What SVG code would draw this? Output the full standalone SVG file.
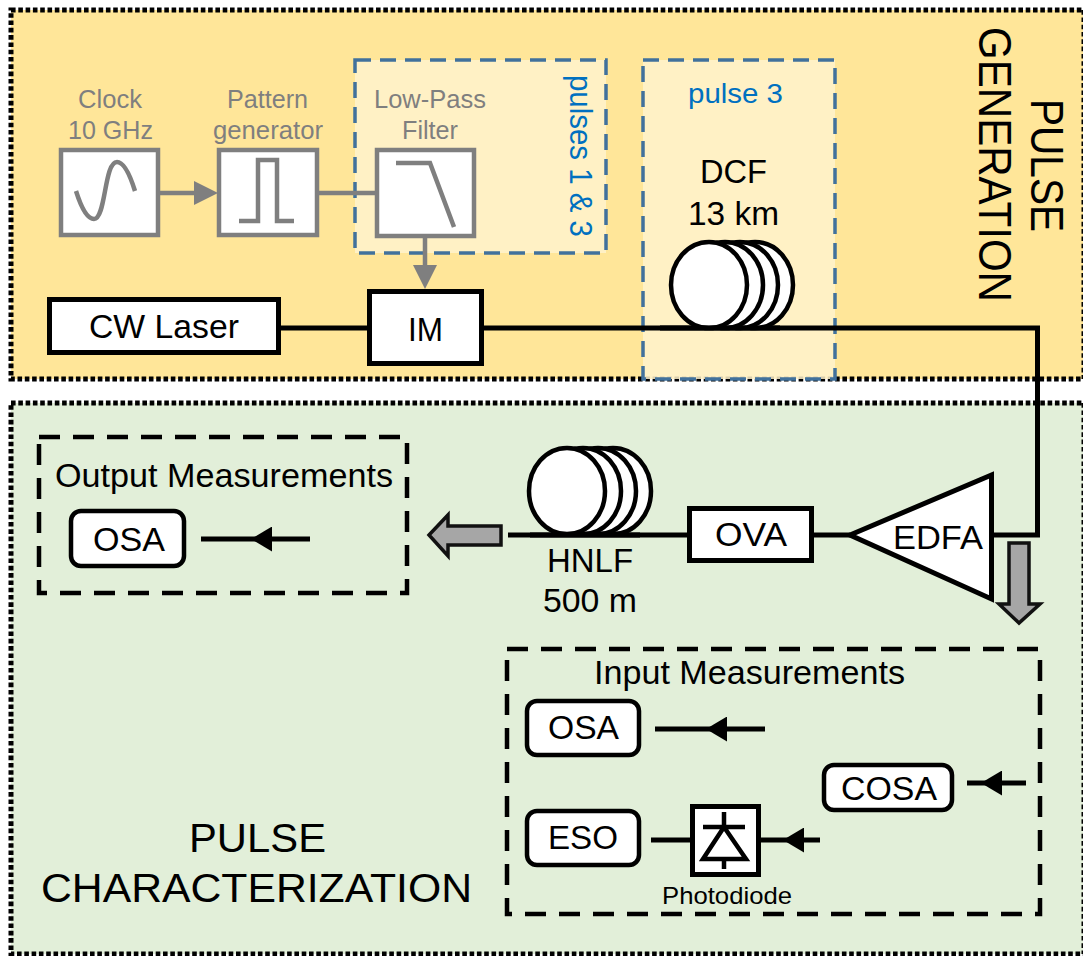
<svg xmlns="http://www.w3.org/2000/svg" width="1083" height="956" viewBox="0 0 1083 956">
<style>
text{font-family:"Liberation Sans",Arial,sans-serif;fill:#000;font-size:33.5px}
.g{fill:#7f7f7f;font-size:26.5px}
.b{fill:#0070c0}
.panel{stroke:#000;stroke-width:5;stroke-dasharray:4.6 2.7}
.sel{fill:#fff2cc;fill-opacity:.85;stroke:#41719c;stroke-width:3.5;stroke-dasharray:16 9}
.meas{fill:none;stroke:#000;stroke-width:4.5;stroke-dasharray:21 13}
.gb{fill:#fff;stroke:#7f7f7f;stroke-width:4.5}
.gl{fill:none;stroke:#7f7f7f;stroke-width:4.5}
.bb{fill:#fff;stroke:#000;stroke-width:5}
.rb{fill:#fff;stroke:#000;stroke-width:4.5}
.bl{fill:none;stroke:#000;stroke-width:5}
.ml{marker-mid:url(#ah)}
.coil ellipse{fill:#fff;stroke:#000;stroke-width:4.5}
.big{fill:#a6a6a6;stroke:#111;stroke-width:3.5}
</style>
<defs>
<marker id="ah" viewBox="0 0 21 25" refX="21" refY="12.5" markerUnits="userSpaceOnUse" markerWidth="21" markerHeight="25" orient="auto"><polygon points="21,12.5 0,0 0,25" fill="#000"/></marker>
<marker id="gh" viewBox="0 0 24 24" refX="0" refY="12" markerUnits="userSpaceOnUse" markerWidth="24" markerHeight="24" orient="auto"><polygon points="24,12 0,0 0,24" fill="#7f7f7f"/></marker>
<g id="coilShape" class="coil">
<ellipse cx="46" cy="0" rx="38" ry="43"/><ellipse cx="31" cy="0" rx="38" ry="43"/><ellipse cx="16" cy="0" rx="38" ry="43"/><ellipse cx="0" cy="0" rx="38" ry="43"/>
</g>
</defs>
<rect width="1083" height="956" fill="#fff"/>
<g id="panel-generation"><rect class="panel" x="11" y="10" width="1073" height="369" fill="#ffe699"/>
<text transform="translate(1031,99) rotate(90) scale(1,1.13)" style="font-size:40.6px" textLength="133" lengthAdjust="spacingAndGlyphs">PULSE</text>
<text transform="translate(979,27) rotate(90) scale(1,1.13)" style="font-size:40.6px" textLength="275" lengthAdjust="spacingAndGlyphs">GENERATION</text></g>
<g id="panel-characterization"><rect class="panel" x="11" y="403" width="1073" height="551" fill="#e2efd9"/>
<text x="189" y="852" style="font-size:41px" textLength="137" lengthAdjust="spacingAndGlyphs">PULSE</text>
<text x="41" y="902" style="font-size:41px" textLength="431" lengthAdjust="spacingAndGlyphs">CHARACTERIZATION</text></g>
<g id="select-pulses-1-3"><rect class="sel" x="355" y="60" width="251" height="193"/>
<text class="b" transform="translate(570,75) rotate(90) scale(1,1.1)" style="font-size:29px" textLength="162" lengthAdjust="spacingAndGlyphs">pulses 1 &amp; 3</text></g>
<g id="select-pulse-3"><rect class="sel" x="643" y="60" width="192" height="319"/>
<text class="b" x="688" y="103" style="font-size:27px" textLength="95" lengthAdjust="spacingAndGlyphs">pulse 3</text></g>
<g id="measure-output"><rect class="meas" x="39" y="437" width="368" height="156"/>
<text x="55" y="487" style="font-size:33px" textLength="338" lengthAdjust="spacingAndGlyphs">Output Measurements</text></g>
<g id="measure-input"><rect class="meas" x="507" y="649" width="533" height="265"/>
<text x="594" y="684" style="font-size:33px" textLength="311" lengthAdjust="spacingAndGlyphs">Input Measurements</text></g>

<g id="connectors">
<path class="gl" d="M160 193H194" marker-end="url(#gh)"/>
<path class="gl" d="M319 193H375"/>
<path class="gl" d="M425 237V265" marker-end="url(#gh)"/>
<path class="bl" d="M281 328H367"/>
<path class="bl" d="M484 328H1037.500V535H994"/>
<path class="bl" d="M508 535H687"/>
<path class="bl" d="M814 535H850"/>
<path class="bl ml" d="M310 539H251H201"/>
<path class="bl ml" d="M765 729H706H655"/>
<path class="bl ml" d="M1026 783H981H967"/>
<path class="bl ml" d="M820 840H783H761"/>
<path class="bl" d="M690 840H651"/>
<polygon class="big" points="429,535 448,515 448,526 501,526 501,545 448,545 448,556"/>
<polygon class="big" points="1019,623 999,604 1009,604 1009,543 1029,543 1029,604 1040,604"/>
</g>

<g id="clock"><text class="g" x="78" y="108" textLength="64" lengthAdjust="spacingAndGlyphs">Clock</text><text class="g" x="68" y="139" textLength="85" lengthAdjust="spacingAndGlyphs">10 GHz</text>
<rect class="gb" x="61" y="150" width="97" height="85"/><path class="gl" d="M76 191C82 210 88 219 94 219C106 219 104 162 117 162C124 162 130 175 135 191"/></g>
<g id="pattern-generator"><text class="g" x="227" y="108" textLength="81" lengthAdjust="spacingAndGlyphs">Pattern</text><text class="g" x="213" y="139" textLength="110" lengthAdjust="spacingAndGlyphs">generator</text>
<rect class="gb" x="219" y="150" width="98" height="85"/><path class="gl" d="M239 221H258V160H277V221H294"/></g>
<g id="low-pass-filter"><text class="g" x="374" y="108" textLength="112" lengthAdjust="spacingAndGlyphs">Low-Pass</text><text class="g" x="402" y="139" textLength="56" lengthAdjust="spacingAndGlyphs">Filter</text>
<rect class="gb" x="377" y="150" width="97" height="86"/><path class="gl" d="M396 163H430L454 227"/></g>
<g id="cw-laser"><rect class="bb" x="49.500" y="299.500" width="229" height="53"/><text x="89" y="338" textLength="150" lengthAdjust="spacingAndGlyphs">CW Laser</text></g>
<g id="im"><rect class="bb" x="369.500" y="291.500" width="112" height="72"/><text x="408" y="341" textLength="35" lengthAdjust="spacingAndGlyphs">IM</text></g>
<g id="dcf"><text x="700" y="183" textLength="67" lengthAdjust="spacingAndGlyphs">DCF</text><text x="688" y="225" textLength="91" lengthAdjust="spacingAndGlyphs">13 km</text>
<use href="#coilShape" x="709" y="285"/><path class="bl" d="M660 328H780"/></g>
<g id="hnlf"><use href="#coilShape" x="567" y="491"/><path class="bl" d="M530 535H640"/>
<text x="547" y="572" textLength="86" lengthAdjust="spacingAndGlyphs">HNLF</text><text x="543" y="612" textLength="94" lengthAdjust="spacingAndGlyphs">500 m</text></g>
<g id="ova"><rect class="bb" x="689.500" y="508.500" width="122" height="52"/><text x="715" y="546" textLength="72" lengthAdjust="spacingAndGlyphs">OVA</text></g>
<g id="edfa"><polygon class="bb" points="850,535 991.500,475 991.500,599"/><text x="893" y="549" textLength="90" lengthAdjust="spacingAndGlyphs">EDFA</text></g>
<g id="osa-output"><rect class="rb" x="71" y="511" width="113" height="55" rx="10"/><text x="93" y="551" textLength="72" lengthAdjust="spacingAndGlyphs">OSA</text></g>
<g id="osa-input"><rect class="rb" x="527" y="701" width="112" height="54" rx="10"/><text x="548" y="739" textLength="71" lengthAdjust="spacingAndGlyphs">OSA</text></g>
<g id="cosa"><rect class="rb" x="824" y="765" width="128" height="45" rx="10"/><text x="841" y="800" textLength="96" lengthAdjust="spacingAndGlyphs">COSA</text></g>
<g id="eso"><rect class="rb" x="527" y="811" width="112" height="54" rx="10"/><text x="548" y="849" textLength="70" lengthAdjust="spacingAndGlyphs">ESO</text></g>
<g id="photodiode"><rect class="bb" x="692.500" y="806.500" width="66" height="68"/>
<path class="bl" d="M724 812V827M703 827H745M724 859V869M724 827L703 859H746Z" style="stroke-width:4.500"/>
<text x="662" y="904" style="font-size:24.500px" textLength="130" lengthAdjust="spacingAndGlyphs">Photodiode</text></g>
</svg>
